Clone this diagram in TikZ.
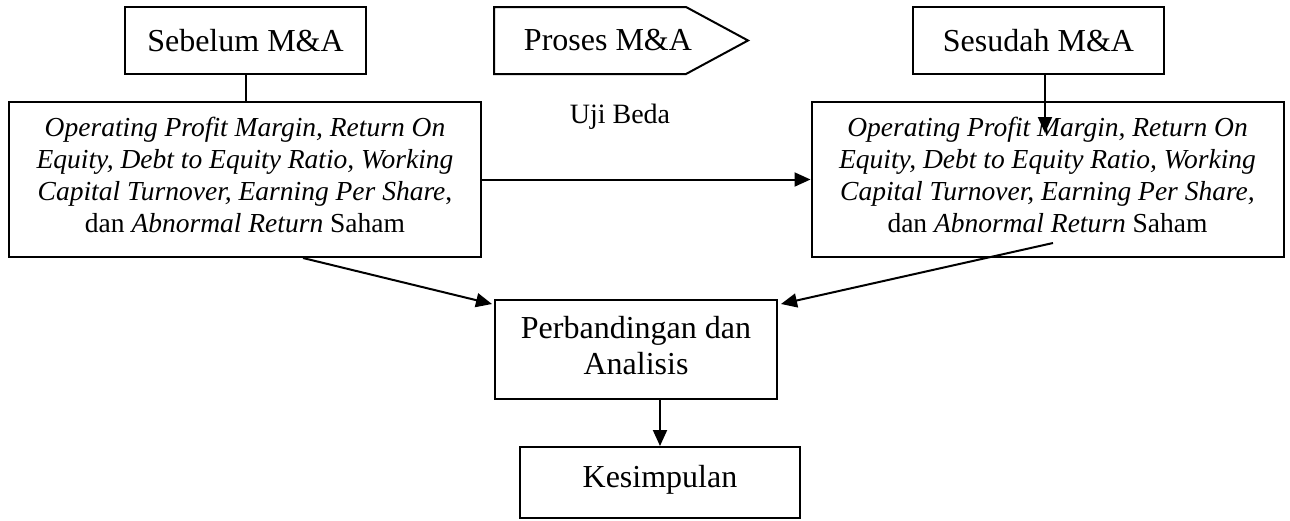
\documentclass[tikz,border=0pt]{standalone}
\usepackage{fontspec}
\setmainfont{Liberation Serif}
\usetikzlibrary{arrows.meta,positioning,calc}
\definecolor{maedge}{RGB}{0,0,0}
\tikzset{
  mabox/.style={
    draw=maedge, line width=1pt, align=center, inner sep=2pt,
    font=\fontsize{16}{18}\selectfont
  },
  head/.style={mabox, minimum height=33.5pt},
  varbox/.style={
    mabox, minimum width=236pt, minimum height=77.5pt,
    font=\fontsize{13.75}{16}\selectfont
  },
  arr/.style={-{Triangle[length=8pt,width=7pt]}, draw=maedge, line width=1pt},
  link/.style={draw=maedge, line width=1pt},
  anno/.style={font=\fontsize{14}{16}\selectfont, inner sep=0pt}
}
\begin{document}
\begin{tikzpicture}[x=0.5pt, y=-0.5pt]
  \useasboundingbox (0,0) rectangle (1290,520);
  % baris atas
  \node[head, minimum width=120.5pt] (sebelum) at (245.5,40.5) {Sebelum M\&A};
  \draw[link] (494,7) -- (686,7) -- (748,40.5) -- (686,74) -- (494,74) -- cycle;
  \node[font=\fontsize{16}{18}\selectfont] (proses) at (608,40.5) {Proses M\&A};
  \node[head, minimum width=125.5pt] (sesudah) at (1038.5,40.5) {Sesudah M\&A};
  % variabel
  \node[varbox] (sblm) at (245,179.5) {\textit{Operating Profit Margin, Return On}\\
    \textit{Equity, Debt to Equity Ratio, Working}\\
    \textit{Capital Turnover, Earning Per Share},\\
    dan \textit{Abnormal Return} Saham\\[-11pt]};
  \node[varbox] (ssdh) at (1047.5,179.5) {\textit{Operating Profit Margin, Return On}\\
    \textit{Equity, Debt to Equity Ratio, Working}\\
    \textit{Capital Turnover, Earning Per Share,}\\
    dan \textit{Abnormal Return} Saham\\[-11pt]};
  \node[anno] (uji) at (620,117) {Uji Beda};
  % hasil
  \node[mabox, minimum width=141pt, minimum height=49.5pt] (banding) at (636,349.5) {Perbandingan dan\\Analisis\\[-14pt]};
  \node[mabox, minimum width=140pt, minimum height=35.5pt, text depth=6pt] (simpul) at (660,482.5) {Kesimpulan};
  % penghubung
  \coordinate (sesudahout) at ($(sesudah.south)+(6.5,0)$);
  \coordinate (ssdhin) at ($(sesudahout)+(0,58)$);
  \coordinate (ssdhout) at ($(ssdh.south)+(5.5,-15)$);
  \draw[link] (sebelum.south) -- (sebelum.south |- sblm.north);
  \draw[arr] (sesudahout) -- (ssdhin);
  \draw[arr] (sblm.east) -- (ssdh.west);
  \draw[arr] ($(sblm.south)+(58,0)$) -- ($(banding.north west)+(-2,5)$);
  \draw[arr] (ssdhout) -- ($(banding.north east)+(3,5)$);
  \draw[arr] (simpul.north |- banding.south) -- (simpul.north);
\end{tikzpicture}
\end{document}
